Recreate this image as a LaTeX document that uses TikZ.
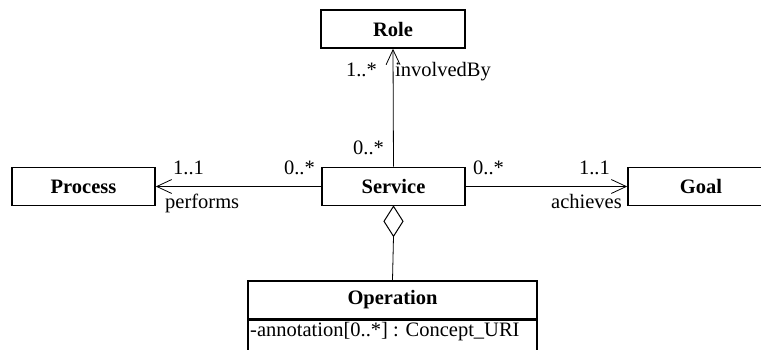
\documentclass[tikz,border=0pt]{standalone}
\usepackage{fontspec}
\setmainfont{Liberation Serif}
\usetikzlibrary{arrows.meta}
\begin{document}
\begin{tikzpicture}[x=1pt,y=-1pt,
  box/.style={draw,line width=1.6pt,inner sep=0pt,minimum height=38pt,font=\fontsize{20.5}{24}\selectfont\bfseries},
  conn/.style={line width=0.8pt},
  lbl/.style={inner sep=0pt,font=\fontsize{20.5}{24}\selectfont},
  openarrow/.style={-{Straight Barb[length=15pt,width=14pt,line width=0.8pt]}}]
\useasboundingbox (0,0) rectangle (761,350);
\clip (0,0) rectangle (761,350);
\node[box,minimum width=144pt] (role) at (393,29) {Role};
\node[box,minimum width=143pt] (process) at (83.5,186.5) {Process};
\node[box,minimum width=143pt] (service) at (393.5,186.5) {Service};
\node[box,minimum width=146pt] (goal) at (701,186.5) {Goal};
\node[box,minimum width=289pt] (op) at (392.5,300) {Operation};
\node[draw,line width=1.6pt,inner sep=0pt,minimum width=289pt,minimum height=70pt,anchor=north] (attr) at (op.south) {};
\node[lbl,anchor=base west] (attrtxt) at (250,336) {-annotation[0..*] : Concept\_URI};
% aggregation diamond
\coordinate (dtop) at (service.south);
\draw[line width=1pt,fill=white] (dtop) -- ++(9.5,15) -- ++(-9.5,15) coordinate (dbot) -- ++(-9.5,-15) -- cycle;
\draw[conn] (dbot) -- (op.north);
% associations
\draw[conn,openarrow] (service.north) -- (role.south);
\draw[conn,openarrow] (service.west) -- (process.east);
\draw[conn,openarrow] (service.east) -- (goal.west);
% labels
\node[lbl,anchor=base east] (l1) at (377,77) {1..*};
\node[lbl,anchor=base west] (l2) at (395,77) {involvedBy};
\node[lbl,anchor=base west] (l3) at (353,155) {0..*};
\node[lbl,anchor=base west] (l4) at (173,175) {1..1};
\node[lbl,anchor=base east] (l5) at (315,175) {0..*};
\node[lbl,anchor=base west] (l6) at (165,208) {performs};
\node[lbl,anchor=base west] (l7) at (473,175) {0..*};
\node[lbl,anchor=base east] (l8) at (610,175) {1..1};
\node[lbl,anchor=base east] (l9) at (622,208) {achieves};
\end{tikzpicture}
\end{document}
